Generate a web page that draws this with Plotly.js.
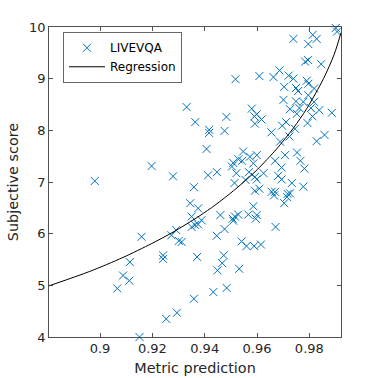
<!DOCTYPE html>
<html>
<head>
<meta charset="utf-8">
<script src="https://cdn.plot.ly/plotly-3.0.1.min.js"></script>
<style>html,body{margin:0;padding:0;background:#fff;}#chart{width:378px;height:378px;}</style>
</head>
<body>
<div id="chart"></div>
<script>
// Scatter data: metric prediction vs subjective score (LIVEVQA)
const predX = [
0.9901,0.9906,0.9739,0.9813,0.9828,0.9796,0.9784,0.9795,0.9845,0.9686,
0.9518,0.9609,0.9663,0.9721,0.9739,0.9790,0.9796,0.9704,0.9818,0.9749,
0.9757,0.9796,0.9701,0.9749,0.9777,0.9818,0.9331,0.9364,0.9580,0.9599,
0.9590,0.9617,0.9592,0.9483,0.9726,0.9762,0.9806,0.9838,0.9886,0.9752,
0.9812,0.9711,0.9696,0.9745,0.9793,0.9417,0.9417,0.9476,0.9655,0.9688,
0.9724,0.9828,0.9858,0.9407,0.9547,0.9573,0.9599,0.9669,0.9707,0.9753,
0.9766,0.9509,0.9504,0.9529,0.9543,0.9586,0.9694,0.9781,0.9197,0.9279,
0.9413,0.9447,0.9359,0.8980,0.9521,0.9569,0.9556,0.9592,0.9599,0.9625,
0.9681,0.9694,0.9733,0.9777,0.9514,0.9726,0.9592,0.9609,0.9656,0.9669,
0.9665,0.9717,0.9715,0.9704,0.9345,0.9375,0.9586,0.9350,0.9363,0.9350,
0.9375,0.9388,0.9460,0.9507,0.9516,0.9509,0.9528,0.9567,0.9599,0.9595,
0.9671,0.9476,0.9446,0.9541,0.9560,0.9589,0.9615,0.9159,0.9273,0.9291,
0.9301,0.9312,0.9241,0.9241,0.9371,0.9473,0.9114,0.9088,0.9112,0.9066,
0.9467,0.9449,0.9532,0.9484,0.9433,0.9359,0.9294,0.9253,0.9151
];
const subjY = [
9.98,9.91,9.77,9.85,9.77,9.67,9.33,9.36,9.28,9.16,
8.99,9.05,9.03,9.06,9.00,8.96,8.90,8.84,8.81,8.82,
8.76,8.68,8.59,8.56,8.55,8.55,8.45,8.16,8.42,8.31,
8.27,8.21,8.13,8.26,8.41,8.43,8.43,8.39,8.34,8.32,
8.27,8.16,8.09,8.03,8.14,8.01,7.95,7.99,7.96,7.78,
7.88,7.79,7.91,7.64,7.59,7.49,7.52,7.41,7.52,7.57,
7.41,7.37,7.30,7.44,7.41,7.36,7.28,7.26,7.31,7.11,
7.13,7.19,6.90,7.02,7.17,7.19,7.04,7.10,7.05,7.17,
7.12,7.05,6.98,6.91,6.98,6.78,6.83,6.87,6.81,6.81,
6.74,6.77,6.71,6.59,6.59,6.49,6.53,6.33,6.17,6.13,
6.18,6.26,6.36,6.29,6.33,6.25,6.37,6.37,6.36,6.29,
6.13,6.09,5.96,5.85,5.76,5.76,5.79,5.94,5.97,6.07,
5.86,5.84,5.58,5.51,5.55,5.58,5.45,5.19,5.09,4.94,
5.43,5.29,5.32,4.95,4.87,4.74,4.47,4.35,4.00
];
// Regression curve
const curveX = [0.8805,0.8961,0.9088,0.9198,0.9279,0.9382,0.9439,0.9510,0.9567,0.9603,0.9675,0.9740,0.9790,0.9854,0.9895,0.9921];
const curveY = [4.99,5.27,5.54,5.81,6.03,6.35,6.55,6.83,7.08,7.25,7.64,8.05,8.42,9.00,9.47,9.89];
// Axis ticks
const xTickVals = [0.9,0.92,0.94,0.96,0.98];
const xTickText = ['0.9','0.92','0.94','0.96','0.98'];
const yTickVals = [4,5,6,7,8,9,10];
const yTickText = ['4','5','6','7','8','9','10'];
const seriesNames = ['LIVEVQA','Regression'];

const axisColor = '#262626';
const fontFam = 'DejaVu Sans, Liberation Sans, sans-serif';

const traces = [
  {
    x: predX, y: subjY, type: 'scatter', mode: 'markers', name: seriesNames[0],
    cliponaxis: false,
    marker: {symbol: 'x-thin', size: 8, color: '#0072BD', line: {color: '#0072BD', width: 1}}
  },
  {
    x: curveX, y: curveY, type: 'scatter', mode: 'lines', name: seriesNames[1],
    line: {color: '#000000', width: 1, shape: 'spline', smoothing: 0.8}
  }
];

const layout = {
  width: 378, height: 378,
  margin: {l: 49, r: 37, t: 27, b: 41, pad: 0},
  paper_bgcolor: '#ffffff', plot_bgcolor: '#ffffff',
  font: {family: fontFam, color: axisColor, size: 13},
  showlegend: true,
  legend: {
    x: 0.049, y: 0.982, xanchor: 'left', yanchor: 'top',
    bgcolor: '#ffffff', bordercolor: axisColor, borderwidth: 0.7,
    font: {family: fontFam, size: 12, color: '#000000'},
    itemwidth: 36, tracegroupgap: 0
  },
  xaxis: {
    range: [0.8805, 0.9921], tickmode: 'array', tickvals: xTickVals, ticktext: xTickText,
    ticks: 'inside', ticklen: 4, tickwidth: 0.8, tickcolor: axisColor,
    showline: true, linecolor: axisColor, linewidth: 0.8, mirror: 'ticks',
    showgrid: false, zeroline: false,
    tickfont: {family: fontFam, size: 13, color: axisColor},
    title: {text: 'Metric prediction', font: {family: fontFam, size: 14.4, color: axisColor}, standoff: 7},
    automargin: false
  },
  yaxis: {
    range: [4, 10], tickmode: 'array', tickvals: yTickVals, ticktext: yTickText,
    ticks: 'inside', ticklen: 4, tickwidth: 0.8, tickcolor: axisColor,
    showline: true, linecolor: axisColor, linewidth: 0.8, mirror: 'ticks',
    showgrid: false, zeroline: false,
    tickfont: {family: fontFam, size: 13, color: axisColor},
    title: {text: 'Subjective score', font: {family: fontFam, size: 14.4, color: axisColor}, standoff: 6},
    automargin: false
  }
};

Plotly.newPlot('chart', traces, layout, {displayModeBar: false, staticPlot: true});
</script>
</body>
</html>
